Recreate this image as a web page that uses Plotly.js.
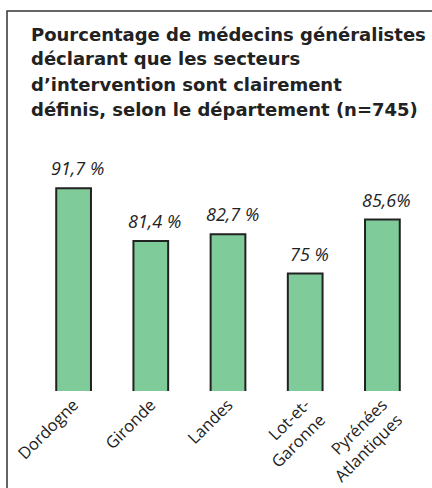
<!DOCTYPE html>
<html>
<head>
<meta charset="utf-8">
<script src="https://cdn.plot.ly/plotly-3.0.1.min.js"></script>
<style>
html,body{margin:0;padding:0;background:#fff;}
#chart{width:432px;height:488px;}
</style>
</head>
<body>
<div id="chart"></div>
<script>
var categories = ["Dordogne", "Gironde", "Landes", "Lot-et-<br>Garonne", "Pyrénées<br>Atlantiques"];
var values = [91.7, 81.4, 82.7, 75, 85.6];
var valueLabels = ["91,7 %", "81,4 %", "82,7 %", "75 %", "85,6%"];
var titleLines = [
  "Pourcentage de médecins généralistes",
  "déclarant que les secteurs",
  "d’intervention sont clairement",
  "définis, selon le département (n=745)"
];

var FONT = "Open Sans, Noto Sans, sans-serif";
var TITLE_FONT = "DejaVu Sans, Open Sans, sans-serif";

var bars = {
  type: "bar",
  x: categories,
  y: values,
  width: 0.45,
  marker: {color: "#80cb9a", line: {color: "#222222", width: 2}},
  hoverinfo: "none"
};

var titleAnn = titleLines.map(function (t, i) {
  return {
    xref: "paper", yref: "paper",
    x: -0.016, y: 1 + (112 - i * 25) / 245,
    xanchor: "left", yanchor: "middle",
    text: "<b>" + t + "</b>",
    showarrow: false,
    font: {family: TITLE_FONT, size: 18, color: "#222222"}
  };
});

var valueAnn = categories.map(function (c, i) {
  return {
    xref: "x", yref: "y",
    x: c, y: values[i],
    xanchor: "center", yanchor: "bottom",
    xshift: 4, yshift: 6,
    text: valueLabels[i],
    showarrow: false,
    font: {family: FONT, size: 18, color: "#222222", style: "italic"}
  };
});

var layout = {
  width: 432, height: 488,
  margin: {l: 35, r: 11, t: 146, b: 97},
  paper_bgcolor: "#ffffff",
  plot_bgcolor: "#ffffff",
  showlegend: false,
  xaxis: {
    type: "category",
    tickangle: -45,
    showline: false, showgrid: false, zeroline: false,
    ticks: "",
    tickfont: {family: FONT, size: 16.5, color: "#222222"}
  },
  yaxis: {
    range: [52, 100],
    visible: false
  },
  annotations: titleAnn.concat(valueAnn),
  shapes: [{
    type: "rect", xref: "paper", yref: "paper",
    x0: -28 / 386, x1: 1.2,
    y0: -0.5, y1: 1 + 135 / 245,
    line: {color: "#333333", width: 1.5},
    fillcolor: "rgba(0,0,0,0)"
  }]
};

Plotly.newPlot("chart", [bars], layout, {displayModeBar: false, staticPlot: true});
</script>
</body>
</html>
